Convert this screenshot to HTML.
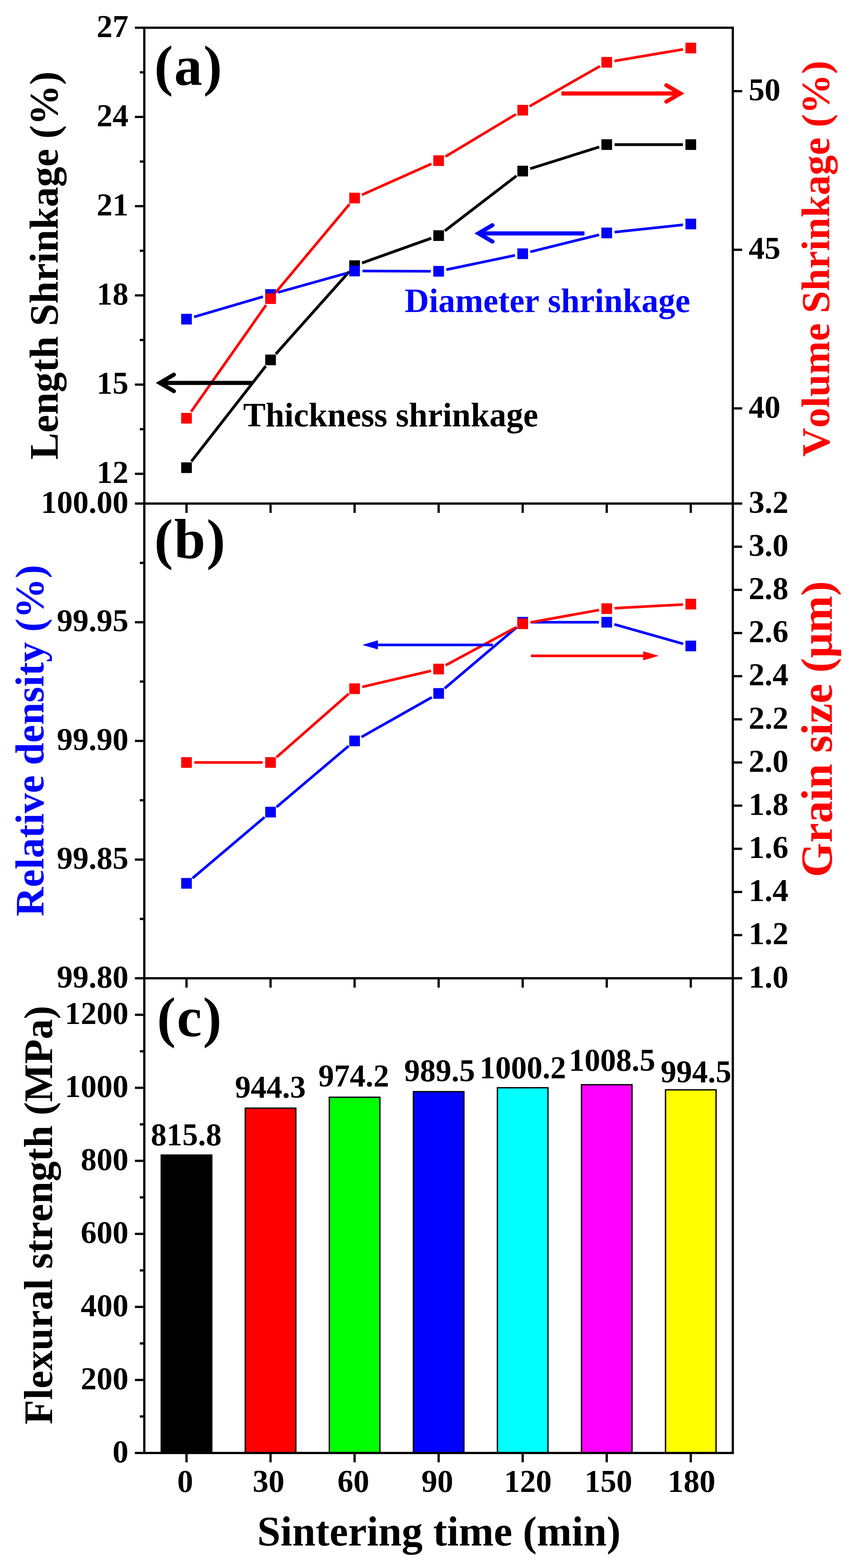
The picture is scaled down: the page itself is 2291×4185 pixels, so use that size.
<!DOCTYPE html>
<html><head><meta charset="utf-8"><title>Sintering time chart</title>
<style>html,body{margin:0;padding:0;background:#fff;}svg{display:block;}text{font-kerning:none;}</style>
</head><body>
<svg width="2291" height="4185" viewBox="0 0 2291 4185"><rect x="0" y="0" width="2291" height="4185" fill="#fff"/>
<g font-family="Liberation Serif, Times New Roman, serif" font-weight="bold">
<rect x="430.50" y="3082.91" width="135.0" height="795.09" fill="#000000" stroke="#000" stroke-width="3.5"/>
<rect x="654.92" y="2957.67" width="135.0" height="920.33" fill="#ff0000" stroke="#000" stroke-width="3.5"/>
<rect x="879.33" y="2928.53" width="135.0" height="949.47" fill="#00ff00" stroke="#000" stroke-width="3.5"/>
<rect x="1103.75" y="2913.62" width="135.0" height="964.38" fill="#0000ff" stroke="#000" stroke-width="3.5"/>
<rect x="1328.17" y="2903.19" width="135.0" height="974.81" fill="#00ffff" stroke="#000" stroke-width="3.5"/>
<rect x="1552.58" y="2895.10" width="135.0" height="982.90" fill="#ff00ff" stroke="#000" stroke-width="3.5"/>
<rect x="1777.00" y="2908.74" width="135.0" height="969.26" fill="#ffff00" stroke="#000" stroke-width="3.5"/>
<text x="402.71" y="3056.50" font-size="84" fill="#000">815.8</text>
<text x="627.50" y="2930.20" font-size="84" fill="#000">944.3</text>
<text x="849.90" y="2900.40" font-size="84" fill="#000">974.2</text>
<text x="1079.30" y="2885.50" font-size="84" fill="#000">989.5</text>
<text x="1280.47" y="2878.00" font-size="84" fill="#000">1000.2</text>
<text x="1518.87" y="2858.10" font-size="84" fill="#000">1008.5</text>
<text x="1764.10" y="2888.90" font-size="84" fill="#000">994.5</text>
<line x1="510.92" y1="1231.72" x2="709.50" y2="977.18" stroke="#000000" stroke-width="7.5" stroke-linecap="butt"/>
<line x1="736.39" y1="944.95" x2="932.86" y2="724.67" stroke="#000000" stroke-width="7.5" stroke-linecap="butt"/>
<line x1="966.61" y1="701.94" x2="1151.47" y2="635.90" stroke="#000000" stroke-width="7.5" stroke-linecap="butt"/>
<line x1="1187.91" y1="616.05" x2="1379.01" y2="469.37" stroke="#000000" stroke-width="7.5" stroke-linecap="butt"/>
<line x1="1415.70" y1="450.28" x2="1600.05" y2="392.25" stroke="#000000" stroke-width="7.5" stroke-linecap="butt"/>
<line x1="1641.08" y1="385.94" x2="1823.50" y2="385.94" stroke="#000000" stroke-width="7.5" stroke-linecap="butt"/>
<rect x="483.75" y="1234.02" width="28.5" height="28.5" fill="#000000"/>
<rect x="708.17" y="946.37" width="28.5" height="28.5" fill="#000000"/>
<rect x="932.58" y="694.75" width="28.5" height="28.5" fill="#000000"/>
<rect x="1157.00" y="614.58" width="28.5" height="28.5" fill="#000000"/>
<rect x="1381.42" y="442.34" width="28.5" height="28.5" fill="#000000"/>
<rect x="1605.83" y="371.69" width="28.5" height="28.5" fill="#000000"/>
<rect x="1830.25" y="371.69" width="28.5" height="28.5" fill="#000000"/>
<line x1="518.15" y1="845.96" x2="702.27" y2="791.91" stroke="#0000ff" stroke-width="7" stroke-linecap="butt"/>
<line x1="742.64" y1="780.34" x2="926.61" y2="728.94" stroke="#0000ff" stroke-width="7" stroke-linecap="butt"/>
<line x1="967.83" y1="723.36" x2="1150.25" y2="724.01" stroke="#0000ff" stroke-width="7" stroke-linecap="butt"/>
<line x1="1191.81" y1="719.79" x2="1375.11" y2="681.54" stroke="#0000ff" stroke-width="7" stroke-linecap="butt"/>
<line x1="1416.05" y1="672.20" x2="1599.70" y2="626.73" stroke="#0000ff" stroke-width="7" stroke-linecap="butt"/>
<line x1="1640.97" y1="619.47" x2="1823.62" y2="600.09" stroke="#0000ff" stroke-width="7" stroke-linecap="butt"/>
<rect x="483.75" y="837.62" width="28.5" height="28.5" fill="#0000ff"/>
<rect x="708.17" y="771.74" width="28.5" height="28.5" fill="#0000ff"/>
<rect x="932.58" y="709.04" width="28.5" height="28.5" fill="#0000ff"/>
<rect x="1157.00" y="709.83" width="28.5" height="28.5" fill="#0000ff"/>
<rect x="1381.42" y="663.00" width="28.5" height="28.5" fill="#0000ff"/>
<rect x="1605.83" y="607.44" width="28.5" height="28.5" fill="#0000ff"/>
<rect x="1830.25" y="583.63" width="28.5" height="28.5" fill="#0000ff"/>
<line x1="510.08" y1="1099.07" x2="710.34" y2="814.23" stroke="#ff0000" stroke-width="7" stroke-linecap="butt"/>
<line x1="735.89" y1="780.94" x2="933.36" y2="544.77" stroke="#ff0000" stroke-width="7" stroke-linecap="butt"/>
<line x1="966.02" y1="520.12" x2="1152.07" y2="437.29" stroke="#ff0000" stroke-width="7" stroke-linecap="butt"/>
<line x1="1189.26" y1="417.95" x2="1377.66" y2="304.94" stroke="#ff0000" stroke-width="7" stroke-linecap="butt"/>
<line x1="1413.91" y1="283.74" x2="1601.84" y2="176.68" stroke="#ff0000" stroke-width="7" stroke-linecap="butt"/>
<line x1="1640.79" y1="162.77" x2="1823.80" y2="131.70" stroke="#ff0000" stroke-width="7" stroke-linecap="butt"/>
<rect x="483.75" y="1102.00" width="28.5" height="28.5" fill="#ff0000"/>
<rect x="708.17" y="782.80" width="28.5" height="28.5" fill="#ff0000"/>
<rect x="932.58" y="514.41" width="28.5" height="28.5" fill="#ff0000"/>
<rect x="1157.00" y="414.50" width="28.5" height="28.5" fill="#ff0000"/>
<rect x="1381.42" y="279.88" width="28.5" height="28.5" fill="#ff0000"/>
<rect x="1605.83" y="152.04" width="28.5" height="28.5" fill="#ff0000"/>
<rect x="1830.25" y="113.94" width="28.5" height="28.5" fill="#ff0000"/>
<line x1="514.03" y1="2344.03" x2="706.39" y2="2181.12" stroke="#0000ff" stroke-width="7" stroke-linecap="butt"/>
<line x1="738.44" y1="2153.98" x2="930.81" y2="1991.07" stroke="#0000ff" stroke-width="7" stroke-linecap="butt"/>
<line x1="965.12" y1="1967.18" x2="1152.96" y2="1861.12" stroke="#0000ff" stroke-width="7" stroke-linecap="butt"/>
<line x1="1187.28" y1="1837.23" x2="1379.64" y2="1674.32" stroke="#0000ff" stroke-width="7" stroke-linecap="butt"/>
<line x1="1416.67" y1="1660.75" x2="1599.08" y2="1660.75" stroke="#0000ff" stroke-width="7" stroke-linecap="butt"/>
<line x1="1640.29" y1="1666.46" x2="1824.29" y2="1718.39" stroke="#0000ff" stroke-width="7" stroke-linecap="butt"/>
<rect x="483.75" y="2343.35" width="28.5" height="28.5" fill="#0000ff"/>
<rect x="708.17" y="2153.30" width="28.5" height="28.5" fill="#0000ff"/>
<rect x="932.58" y="1963.25" width="28.5" height="28.5" fill="#0000ff"/>
<rect x="1157.00" y="1836.55" width="28.5" height="28.5" fill="#0000ff"/>
<rect x="1381.42" y="1646.50" width="28.5" height="28.5" fill="#0000ff"/>
<rect x="1605.83" y="1646.50" width="28.5" height="28.5" fill="#0000ff"/>
<rect x="1830.25" y="1709.85" width="28.5" height="28.5" fill="#0000ff"/>
<line x1="519.00" y1="2035.09" x2="701.42" y2="2035.09" stroke="#ff0000" stroke-width="7" stroke-linecap="butt"/>
<line x1="738.20" y1="2021.24" x2="931.05" y2="1851.98" stroke="#ff0000" stroke-width="7" stroke-linecap="butt"/>
<line x1="967.28" y1="1833.35" x2="1150.80" y2="1790.50" stroke="#ff0000" stroke-width="7" stroke-linecap="butt"/>
<line x1="1189.74" y1="1775.76" x2="1377.18" y2="1674.74" stroke="#ff0000" stroke-width="7" stroke-linecap="butt"/>
<line x1="1416.34" y1="1661.07" x2="1599.41" y2="1628.18" stroke="#ff0000" stroke-width="7" stroke-linecap="butt"/>
<line x1="1641.05" y1="1623.34" x2="1823.53" y2="1613.50" stroke="#ff0000" stroke-width="7" stroke-linecap="butt"/>
<rect x="483.75" y="2020.84" width="28.5" height="28.5" fill="#ff0000"/>
<rect x="708.17" y="2020.84" width="28.5" height="28.5" fill="#ff0000"/>
<rect x="932.58" y="1823.88" width="28.5" height="28.5" fill="#ff0000"/>
<rect x="1157.00" y="1771.47" width="28.5" height="28.5" fill="#ff0000"/>
<rect x="1381.42" y="1650.53" width="28.5" height="28.5" fill="#ff0000"/>
<rect x="1605.83" y="1610.22" width="28.5" height="28.5" fill="#ff0000"/>
<rect x="1830.25" y="1598.12" width="28.5" height="28.5" fill="#ff0000"/>
<line x1="674.50" y1="1022.00" x2="426.87" y2="1022.00" stroke="#000000" stroke-width="11" stroke-linecap="butt"/>
<polyline points="464.27,1000.10 426.87,1022.00 464.27,1043.90" fill="none" stroke="#000000" stroke-width="11" stroke-linecap="round" stroke-linejoin="miter" stroke-miterlimit="10"/>
<line x1="1560.60" y1="622.90" x2="1277.57" y2="622.90" stroke="#0000ff" stroke-width="11" stroke-linecap="butt"/>
<polyline points="1314.97,601.00 1277.57,622.90 1314.97,644.80" fill="none" stroke="#0000ff" stroke-width="11" stroke-linecap="round" stroke-linejoin="miter" stroke-miterlimit="10"/>
<line x1="1499.00" y1="249.40" x2="1816.63" y2="249.40" stroke="#ff0000" stroke-width="11" stroke-linecap="butt"/>
<polyline points="1779.23,227.50 1816.63,249.40 1779.23,271.30" fill="none" stroke="#ff0000" stroke-width="11" stroke-linecap="round" stroke-linejoin="miter" stroke-miterlimit="10"/>
<line x1="1316.00" y1="1721.20" x2="1008.20" y2="1721.20" stroke="#0000ff" stroke-width="7" stroke-linecap="butt"/>
<polygon points="970.00,1721.20 1008.20,1710.00 1008.20,1732.40" fill="#0000ff" stroke="#0000ff" stroke-width="1.5" stroke-linejoin="round"/>
<line x1="1417.70" y1="1750.40" x2="1718.20" y2="1750.40" stroke="#ff0000" stroke-width="7" stroke-linecap="butt"/>
<polygon points="1756.70,1750.40 1718.20,1739.20 1718.20,1761.60" fill="#ff0000" stroke="#ff0000" stroke-width="1.5" stroke-linejoin="round"/>
<rect x="385.30" y="74.00" width="1571.40" height="3804.00" fill="none" stroke="#000" stroke-width="6"/>
<line x1="385.30" y1="1344.00" x2="1956.70" y2="1344.00" stroke="#000" stroke-width="6" stroke-linecap="butt"/>
<line x1="385.30" y1="2611.00" x2="1956.70" y2="2611.00" stroke="#000" stroke-width="6" stroke-linecap="butt"/>
<line x1="498.00" y1="1344.00" x2="498.00" y2="1369.00" stroke="#000" stroke-width="6" stroke-linecap="butt"/>
<line x1="722.42" y1="1344.00" x2="722.42" y2="1369.00" stroke="#000" stroke-width="6" stroke-linecap="butt"/>
<line x1="946.83" y1="1344.00" x2="946.83" y2="1369.00" stroke="#000" stroke-width="6" stroke-linecap="butt"/>
<line x1="1171.25" y1="1344.00" x2="1171.25" y2="1369.00" stroke="#000" stroke-width="6" stroke-linecap="butt"/>
<line x1="1395.67" y1="1344.00" x2="1395.67" y2="1369.00" stroke="#000" stroke-width="6" stroke-linecap="butt"/>
<line x1="1620.08" y1="1344.00" x2="1620.08" y2="1369.00" stroke="#000" stroke-width="6" stroke-linecap="butt"/>
<line x1="1844.50" y1="1344.00" x2="1844.50" y2="1369.00" stroke="#000" stroke-width="6" stroke-linecap="butt"/>
<line x1="498.00" y1="2611.00" x2="498.00" y2="2636.00" stroke="#000" stroke-width="6" stroke-linecap="butt"/>
<line x1="722.42" y1="2611.00" x2="722.42" y2="2636.00" stroke="#000" stroke-width="6" stroke-linecap="butt"/>
<line x1="946.83" y1="2611.00" x2="946.83" y2="2636.00" stroke="#000" stroke-width="6" stroke-linecap="butt"/>
<line x1="1171.25" y1="2611.00" x2="1171.25" y2="2636.00" stroke="#000" stroke-width="6" stroke-linecap="butt"/>
<line x1="1395.67" y1="2611.00" x2="1395.67" y2="2636.00" stroke="#000" stroke-width="6" stroke-linecap="butt"/>
<line x1="1620.08" y1="2611.00" x2="1620.08" y2="2636.00" stroke="#000" stroke-width="6" stroke-linecap="butt"/>
<line x1="1844.50" y1="2611.00" x2="1844.50" y2="2636.00" stroke="#000" stroke-width="6" stroke-linecap="butt"/>
<line x1="498.00" y1="3878.00" x2="498.00" y2="3903.00" stroke="#000" stroke-width="6" stroke-linecap="butt"/>
<line x1="722.42" y1="3878.00" x2="722.42" y2="3903.00" stroke="#000" stroke-width="6" stroke-linecap="butt"/>
<line x1="946.83" y1="3878.00" x2="946.83" y2="3903.00" stroke="#000" stroke-width="6" stroke-linecap="butt"/>
<line x1="1171.25" y1="3878.00" x2="1171.25" y2="3903.00" stroke="#000" stroke-width="6" stroke-linecap="butt"/>
<line x1="1395.67" y1="3878.00" x2="1395.67" y2="3903.00" stroke="#000" stroke-width="6" stroke-linecap="butt"/>
<line x1="1620.08" y1="3878.00" x2="1620.08" y2="3903.00" stroke="#000" stroke-width="6" stroke-linecap="butt"/>
<line x1="1844.50" y1="3878.00" x2="1844.50" y2="3903.00" stroke="#000" stroke-width="6" stroke-linecap="butt"/>
<line x1="385.30" y1="1264.62" x2="360.30" y2="1264.62" stroke="#000" stroke-width="6" stroke-linecap="butt"/>
<line x1="385.30" y1="1026.50" x2="360.30" y2="1026.50" stroke="#000" stroke-width="6" stroke-linecap="butt"/>
<line x1="385.30" y1="788.38" x2="360.30" y2="788.38" stroke="#000" stroke-width="6" stroke-linecap="butt"/>
<line x1="385.30" y1="550.25" x2="360.30" y2="550.25" stroke="#000" stroke-width="6" stroke-linecap="butt"/>
<line x1="385.30" y1="312.12" x2="360.30" y2="312.12" stroke="#000" stroke-width="6" stroke-linecap="butt"/>
<line x1="385.30" y1="74.00" x2="360.30" y2="74.00" stroke="#000" stroke-width="6" stroke-linecap="butt"/>
<line x1="385.30" y1="1145.56" x2="373.30" y2="1145.56" stroke="#000" stroke-width="6" stroke-linecap="butt"/>
<line x1="385.30" y1="907.44" x2="373.30" y2="907.44" stroke="#000" stroke-width="6" stroke-linecap="butt"/>
<line x1="385.30" y1="669.31" x2="373.30" y2="669.31" stroke="#000" stroke-width="6" stroke-linecap="butt"/>
<line x1="385.30" y1="431.19" x2="373.30" y2="431.19" stroke="#000" stroke-width="6" stroke-linecap="butt"/>
<line x1="385.30" y1="193.06" x2="373.30" y2="193.06" stroke="#000" stroke-width="6" stroke-linecap="butt"/>
<line x1="1956.70" y1="1090.00" x2="1981.70" y2="1090.00" stroke="#000" stroke-width="6" stroke-linecap="butt"/>
<line x1="1956.70" y1="666.67" x2="1981.70" y2="666.67" stroke="#000" stroke-width="6" stroke-linecap="butt"/>
<line x1="1956.70" y1="243.33" x2="1981.70" y2="243.33" stroke="#000" stroke-width="6" stroke-linecap="butt"/>
<line x1="385.30" y1="2611.00" x2="360.30" y2="2611.00" stroke="#000" stroke-width="6" stroke-linecap="butt"/>
<line x1="385.30" y1="2294.25" x2="360.30" y2="2294.25" stroke="#000" stroke-width="6" stroke-linecap="butt"/>
<line x1="385.30" y1="1977.50" x2="360.30" y2="1977.50" stroke="#000" stroke-width="6" stroke-linecap="butt"/>
<line x1="385.30" y1="1660.75" x2="360.30" y2="1660.75" stroke="#000" stroke-width="6" stroke-linecap="butt"/>
<line x1="385.30" y1="1344.00" x2="360.30" y2="1344.00" stroke="#000" stroke-width="6" stroke-linecap="butt"/>
<line x1="385.30" y1="2452.62" x2="373.30" y2="2452.62" stroke="#000" stroke-width="6" stroke-linecap="butt"/>
<line x1="385.30" y1="2135.87" x2="373.30" y2="2135.87" stroke="#000" stroke-width="6" stroke-linecap="butt"/>
<line x1="385.30" y1="1819.12" x2="373.30" y2="1819.12" stroke="#000" stroke-width="6" stroke-linecap="butt"/>
<line x1="385.30" y1="1502.38" x2="373.30" y2="1502.38" stroke="#000" stroke-width="6" stroke-linecap="butt"/>
<line x1="1956.70" y1="2611.00" x2="1981.70" y2="2611.00" stroke="#000" stroke-width="6" stroke-linecap="butt"/>
<line x1="1956.70" y1="2495.82" x2="1981.70" y2="2495.82" stroke="#000" stroke-width="6" stroke-linecap="butt"/>
<line x1="1956.70" y1="2380.64" x2="1981.70" y2="2380.64" stroke="#000" stroke-width="6" stroke-linecap="butt"/>
<line x1="1956.70" y1="2265.45" x2="1981.70" y2="2265.45" stroke="#000" stroke-width="6" stroke-linecap="butt"/>
<line x1="1956.70" y1="2150.27" x2="1981.70" y2="2150.27" stroke="#000" stroke-width="6" stroke-linecap="butt"/>
<line x1="1956.70" y1="2035.09" x2="1981.70" y2="2035.09" stroke="#000" stroke-width="6" stroke-linecap="butt"/>
<line x1="1956.70" y1="1919.91" x2="1981.70" y2="1919.91" stroke="#000" stroke-width="6" stroke-linecap="butt"/>
<line x1="1956.70" y1="1804.73" x2="1981.70" y2="1804.73" stroke="#000" stroke-width="6" stroke-linecap="butt"/>
<line x1="1956.70" y1="1689.55" x2="1981.70" y2="1689.55" stroke="#000" stroke-width="6" stroke-linecap="butt"/>
<line x1="1956.70" y1="1574.36" x2="1981.70" y2="1574.36" stroke="#000" stroke-width="6" stroke-linecap="butt"/>
<line x1="1956.70" y1="1459.18" x2="1981.70" y2="1459.18" stroke="#000" stroke-width="6" stroke-linecap="butt"/>
<line x1="1956.70" y1="1344.00" x2="1981.70" y2="1344.00" stroke="#000" stroke-width="6" stroke-linecap="butt"/>
<line x1="385.30" y1="3878.00" x2="360.30" y2="3878.00" stroke="#000" stroke-width="6" stroke-linecap="butt"/>
<line x1="385.30" y1="3683.08" x2="360.30" y2="3683.08" stroke="#000" stroke-width="6" stroke-linecap="butt"/>
<line x1="385.30" y1="3488.15" x2="360.30" y2="3488.15" stroke="#000" stroke-width="6" stroke-linecap="butt"/>
<line x1="385.30" y1="3293.23" x2="360.30" y2="3293.23" stroke="#000" stroke-width="6" stroke-linecap="butt"/>
<line x1="385.30" y1="3098.31" x2="360.30" y2="3098.31" stroke="#000" stroke-width="6" stroke-linecap="butt"/>
<line x1="385.30" y1="2903.38" x2="360.30" y2="2903.38" stroke="#000" stroke-width="6" stroke-linecap="butt"/>
<line x1="385.30" y1="2708.46" x2="360.30" y2="2708.46" stroke="#000" stroke-width="6" stroke-linecap="butt"/>
<line x1="385.30" y1="3780.54" x2="373.30" y2="3780.54" stroke="#000" stroke-width="6" stroke-linecap="butt"/>
<line x1="385.30" y1="3585.62" x2="373.30" y2="3585.62" stroke="#000" stroke-width="6" stroke-linecap="butt"/>
<line x1="385.30" y1="3390.69" x2="373.30" y2="3390.69" stroke="#000" stroke-width="6" stroke-linecap="butt"/>
<line x1="385.30" y1="3195.77" x2="373.30" y2="3195.77" stroke="#000" stroke-width="6" stroke-linecap="butt"/>
<line x1="385.30" y1="3000.85" x2="373.30" y2="3000.85" stroke="#000" stroke-width="6" stroke-linecap="butt"/>
<line x1="385.30" y1="2805.92" x2="373.30" y2="2805.92" stroke="#000" stroke-width="6" stroke-linecap="butt"/>
<text x="343.00" y="1289.22" font-size="85" fill="#000" text-anchor="end">12</text>
<text x="343.00" y="1051.10" font-size="85" fill="#000" text-anchor="end">15</text>
<text x="343.00" y="812.98" font-size="85" fill="#000" text-anchor="end">18</text>
<text x="343.00" y="574.85" font-size="85" fill="#000" text-anchor="end">21</text>
<text x="343.00" y="336.73" font-size="85" fill="#000" text-anchor="end">24</text>
<text x="343.00" y="98.60" font-size="85" fill="#000" text-anchor="end">27</text>
<text x="1999.00" y="1114.60" font-size="85" fill="#000">40</text>
<text x="1999.00" y="691.27" font-size="85" fill="#000">45</text>
<text x="1999.00" y="267.93" font-size="85" fill="#000">50</text>
<text x="343.00" y="2635.60" font-size="85" fill="#000" text-anchor="end">99.80</text>
<text x="343.00" y="2318.85" font-size="85" fill="#000" text-anchor="end">99.85</text>
<text x="343.00" y="2002.10" font-size="85" fill="#000" text-anchor="end">99.90</text>
<text x="343.00" y="1685.35" font-size="85" fill="#000" text-anchor="end">99.95</text>
<text x="343.00" y="1368.60" font-size="85" fill="#000" text-anchor="end">100.00</text>
<text x="1999.00" y="2635.60" font-size="85" fill="#000">1.0</text>
<text x="1999.00" y="2520.42" font-size="85" fill="#000">1.2</text>
<text x="1999.00" y="2405.24" font-size="85" fill="#000">1.4</text>
<text x="1999.00" y="2290.05" font-size="85" fill="#000">1.6</text>
<text x="1999.00" y="2174.87" font-size="85" fill="#000">1.8</text>
<text x="1999.00" y="2059.69" font-size="85" fill="#000">2.0</text>
<text x="1999.00" y="1944.51" font-size="85" fill="#000">2.2</text>
<text x="1999.00" y="1829.33" font-size="85" fill="#000">2.4</text>
<text x="1999.00" y="1714.15" font-size="85" fill="#000">2.6</text>
<text x="1999.00" y="1598.96" font-size="85" fill="#000">2.8</text>
<text x="1999.00" y="1483.78" font-size="85" fill="#000">3.0</text>
<text x="1999.00" y="1368.60" font-size="85" fill="#000">3.2</text>
<text x="343.00" y="3902.60" font-size="85" fill="#000" text-anchor="end">0</text>
<text x="343.00" y="3707.68" font-size="85" fill="#000" text-anchor="end">200</text>
<text x="343.00" y="3512.75" font-size="85" fill="#000" text-anchor="end">400</text>
<text x="343.00" y="3317.83" font-size="85" fill="#000" text-anchor="end">600</text>
<text x="343.00" y="3122.91" font-size="85" fill="#000" text-anchor="end">800</text>
<text x="343.00" y="2927.98" font-size="85" fill="#000" text-anchor="end">1000</text>
<text x="343.00" y="2733.06" font-size="85" fill="#000" text-anchor="end">1200</text>
<text x="473.36" y="3982.30" font-size="85" fill="#000">0</text>
<text x="674.50" y="3982.30" font-size="85" fill="#000">30</text>
<text x="900.89" y="3982.30" font-size="85" fill="#000">60</text>
<text x="1125.18" y="3982.30" font-size="85" fill="#000">90</text>
<text x="1345.69" y="3982.30" font-size="85" fill="#000">120</text>
<text x="1560.69" y="3982.30" font-size="85" fill="#000">150</text>
<text x="1782.79" y="3982.30" font-size="85" fill="#000">180</text>
<text x="412.11" y="225.50" font-size="150" fill="#000" letter-spacing="3">(a)</text>
<text x="412.11" y="1489.50" font-size="150" fill="#000" letter-spacing="3">(b)</text>
<text x="419.31" y="2766.30" font-size="150" fill="#000" letter-spacing="3">(c)</text>
<text x="649.19" y="1137.50" font-size="90" fill="#000">Thickness shrinkage</text>
<text x="1080.52" y="833.00" font-size="90" fill="#0000ff">Diameter shrinkage</text>
<text x="153.80" y="1226.84" font-size="107.8" fill="#000000" transform="rotate(-90 153.80 1226.84)">Length Shrinkage (%)</text>
<text x="116.10" y="2445.64" font-size="107.6" fill="#0000ff" transform="rotate(-90 116.10 2445.64)">Relative density (%)</text>
<text x="139.00" y="3801.74" font-size="107.6" fill="#000000" transform="rotate(-90 139.00 3801.74)">Flexural strength (MPa)</text>
<text x="2213.70" y="1219.00" font-size="106.9" fill="#ff0000" transform="rotate(-90 2213.70 1219.00)">Volume Shrinkage (%)</text>
<text x="2221.00" y="2341.28" font-size="118.4" fill="#ff0000" transform="rotate(-90 2221.00 2341.28)">Grain size (μm)</text>
<text x="686.74" y="4125.00" font-size="112" fill="#000">Sintering time (min)</text>
</g></svg>
</body></html>
